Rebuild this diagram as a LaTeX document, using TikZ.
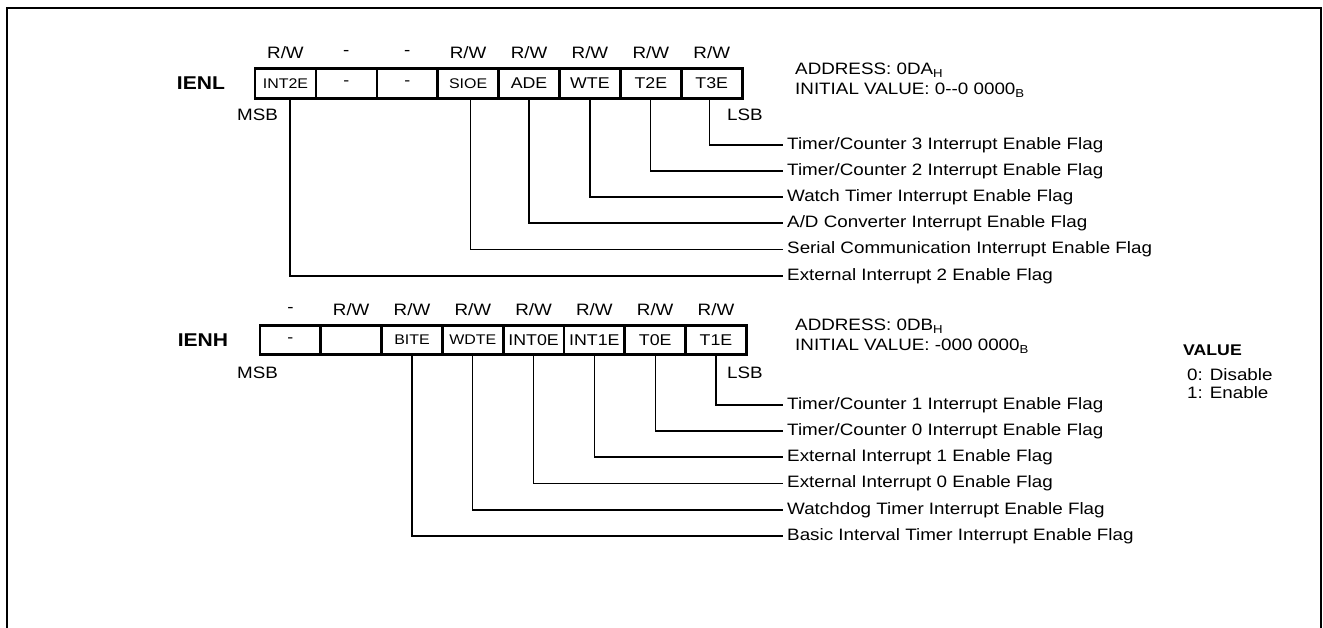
\documentclass[tikz,border=0pt]{standalone}
\usepackage{fontspec}
\setmainfont[FakeStretch=1.14]{Liberation Sans}
\begin{document}
\begin{tikzpicture}[x=1pt,y=-1pt,
  font=\fontsize{16.5}{19}\selectfont,
  cell/.style={draw, line width=2.6pt, minimum width=60.9pt, minimum height=29.5pt, inner sep=0pt, anchor=center, font=\fontsize{15.6}{18}\selectfont},
  celltxt/.style={font=\fontsize{14}{16}\selectfont},
  flag/.style={anchor=west, inner sep=4pt},
  reglabel/.style={font=\bfseries\fontsize{18.5}{21}\selectfont},
  plain/.style={inner sep=0pt},
  conn/.style={line width=1.2pt}]
\useasboundingbox (0,0) rectangle (1323,628);
\coordinate (fbl) at (7,628);
\coordinate (ftl) at (7,8);
\coordinate (ftr) at (1321,8);
\coordinate (fbr) at (1321,628);
\draw[line width=1.5pt] (fbl) -- (ftl) -- (ftr) -- (fbr);

% ---------- IENL ----------
\node[reglabel] (ienl) at (201,83.5) {IENL};
\node[cell,celltxt] (L1) at (285.45,83.5) {INT2E};
\node[cell] (L2) at (346.35,83.5) {-};
\node[cell] (L3) at (407.25,83.5) {-};
\node[cell,celltxt] (L4) at (468.15,83.5) {SIOE};
\node[cell] (L5) at (529.05,83.5) {ADE};
\node[cell] (L6) at (589.95,83.5) {WTE};
\node[cell] (L7) at (650.85,83.5) {T2E};
\node[cell] (L8) at (711.75,83.5) {T3E};
\foreach \i/\t in {1/R\slash W,2/-,3/-,4/R\slash W,5/R\slash W,6/R\slash W,7/R\slash W,8/R\slash W}
  \node[plain] (LA\i) at (L\i |- 0,53) {\t};
\node[plain] (lmsb) at (257.5,115) {MSB};
\node[plain] (llsb) at (745,115) {LSB};
\node[plain,anchor=west] (laddr) at (795,70) {ADDRESS: 0DA\textsubscript{H}};
\node[plain,anchor=west] (linit) at (795,90) {INITIAL VALUE: 0-{}-0 0000\textsubscript{B}};

\node[flag] (lf1) at (783,145) {Timer/Counter 3 Interrupt Enable Flag};
\node[flag] (lf2) at (783,171) {Timer/Counter 2 Interrupt Enable Flag};
\node[flag] (lf3) at (783,197) {Watch Timer Interrupt Enable Flag};
\node[flag] (lf4) at (783,223) {A/D Converter Interrupt Enable Flag};
\node[flag] (lf5) at (783,249.5) {Serial Communication Interrupt Enable Flag};
\node[flag] (lf6) at (783,276) {External Interrupt 2 Enable Flag};
\draw[conn] ([xshift=-2.5pt]L8.south) |- (lf1.west);
\draw[conn] (L7.south) |- (lf2.west);
\draw[conn] (L6.south) |- (lf3.west);
\draw[conn] (L5.south) |- (lf4.west);
\draw[conn] ([xshift=2.5pt]L4.south) |- (lf5.west);
\draw[conn] ([xshift=4.5pt]L1.south) |- (lf6.west);

% ---------- IENH ----------
\node[reglabel] (ienh) at (203,340) {IENH};
\node[cell] (H1) at (290.4,340) {-};
\node[cell] (H2) at (351.2,340) {};
\node[cell,celltxt] (H3) at (412.0,340) {BITE};
\node[cell,celltxt] (H4) at (472.8,340) {WDTE};
\node[cell] (H5) at (533.6,340) {INT0E};
\node[cell] (H6) at (594.4,340) {INT1E};
\node[cell] (H7) at (655.2,340) {T0E};
\node[cell] (H8) at (716.0,340) {T1E};
\foreach \i/\t in {1/-,2/R\slash W,3/R\slash W,4/R\slash W,5/R\slash W,6/R\slash W,7/R\slash W,8/R\slash W}
  \node[plain] (HA\i) at (H\i |- 0,310) {\t};
\node[plain] (hmsb) at (257.5,373) {MSB};
\node[plain] (hlsb) at (745,373) {LSB};
\node[plain,anchor=west] (haddr) at (795,326) {ADDRESS: 0DB\textsubscript{H}};
\node[plain,anchor=west] (hinit) at (795,346) {INITIAL VALUE: -000 0000\textsubscript{B}};
\node[plain,anchor=west,font=\bfseries\fontsize{15.5}{18}\selectfont] (val) at (1183,350) {VALUE};
\node[plain,anchor=west] (v0) at (1187,375) {0: Disable};
\node[plain,anchor=west] (v1) at (1187,393) {1: Enable};

\node[flag] (hf1) at (783,405) {Timer/Counter 1 Interrupt Enable Flag};
\node[flag] (hf2) at (783,431) {Timer/Counter 0 Interrupt Enable Flag};
\node[flag] (hf3) at (783,457) {External Interrupt 1 Enable Flag};
\node[flag] (hf4) at (783,483.5) {External Interrupt 0 Enable Flag};
\node[flag] (hf5) at (783,510) {Watchdog Timer Interrupt Enable Flag};
\node[flag] (hf6) at (783,536) {Basic Interval Timer Interrupt Enable Flag};
\draw[conn] (H8.south) |- (hf1.west);
\draw[conn] (H7.south) |- (hf2.west);
\draw[conn] (H6.south) |- (hf3.west);
\draw[conn] (H5.south) |- (hf4.west);
\draw[conn] (H4.south) |- (hf5.west);
\draw[conn] (H3.south) |- (hf6.west);
\end{tikzpicture}
\end{document}
